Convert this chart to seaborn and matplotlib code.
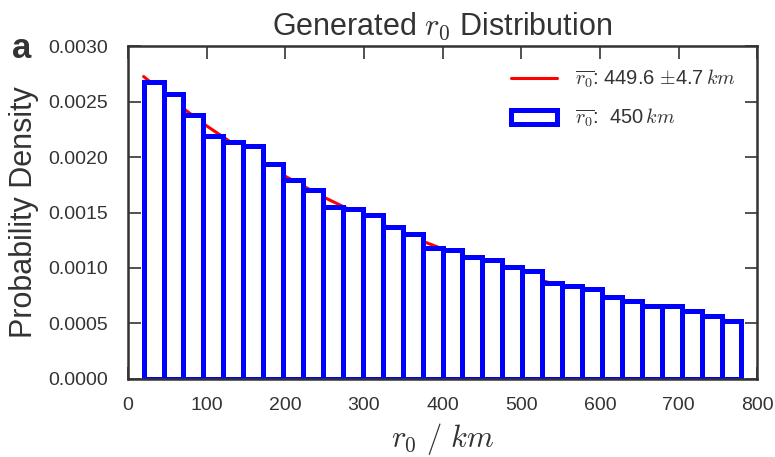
import numpy as np
import pandas as pd
import matplotlib
matplotlib.use("Agg")
import matplotlib.pyplot as plt
import seaborn as sns

# ---- data ----
bin_edges = [20.0, 45.33, 70.67, 96.0, 121.33, 146.67, 172.0, 197.33, 222.67, 248.0,
             273.33, 298.67, 324.0, 349.33, 374.67, 400.0, 425.33, 450.67, 476.0, 501.33,
             526.67, 552.0, 577.33, 602.67, 628.0, 653.33, 678.67, 704.0, 729.33, 754.67, 780.0]
density = [0.00268, 0.00257, 0.00238, 0.00219, 0.00214, 0.00210, 0.00194, 0.00179, 0.00170, 0.00155,
           0.00153, 0.00148, 0.00137, 0.00131, 0.00118, 0.00116, 0.00110, 0.00107, 0.00101, 0.00097,
           0.00086, 0.00084, 0.00081, 0.00074, 0.00070, 0.00066, 0.00066, 0.00061, 0.00057, 0.00052]
fit_x = [20, 60, 100, 150, 200, 250, 300, 350, 400, 450, 500, 550, 600, 650, 700, 750, 780]
fit_y = [0.002726, 0.002494, 0.002282, 0.002042, 0.001827, 0.001635, 0.001463, 0.001309,
         0.001172, 0.001048, 0.000938, 0.000840, 0.000751, 0.000672, 0.000602, 0.000538, 0.000504]
xticks = [0, 100, 200, 300, 400, 500, 600, 700, 800]
yticks = [0.0000, 0.0005, 0.0010, 0.0015, 0.0020, 0.0025, 0.0030]

title = r"Generated $r_0$ Distribution"
xlabel = r"$r_0\ /\ km$"
ylabel = "Probability Density"
fit_label = r"$\overline{r_0}$: 449.6 $\pm$4.7$\,km$"
hist_label = r"$\overline{r_0}$:  450$\,km$"

sns.set_theme(style="ticks")
plt.rcParams["font.family"] = ["Liberation Sans", "DejaVu Sans"]
plt.rcParams["mathtext.fontset"] = "cm"
text_col = "#333333"

fig = plt.figure(figsize=(7.75, 4.57), dpi=100)
ax = fig.add_axes([0.165, 0.171, 0.812, 0.728])

sns.lineplot(x=fit_x, y=fit_y, ax=ax, color="red", lw=2.2, label=fit_label, zorder=1)

centers = [(bin_edges[i] + bin_edges[i + 1]) / 2 for i in range(len(density))]
hdf = pd.DataFrame({"r0": centers, "w": density})
sns.histplot(data=hdf, x="r0", weights="w", bins=bin_edges, stat="count",
             element="bars", fill=True, facecolor="white", edgecolor="blue",
             linewidth=3.6, alpha=1, ax=ax, label=hist_label, zorder=2)

ax.set_xlim(0, 800)
ax.set_ylim(0, 0.0030)
ax.set_xticks(xticks)
ax.set_yticks(yticks)
ax.set_yticklabels([f"{v:.4f}" for v in yticks])
ax.tick_params(direction="in", length=9, width=1.2, top=True, right=True,
               labelsize=14, colors=text_col)
ax.tick_params(axis="y", pad=14)
ax.tick_params(axis="x", pad=13)
for s in ax.spines.values():
    s.set_color("#333333")
    s.set_linewidth(1.8)

ax.set_title(title, fontsize=22, color=text_col, pad=8)
ax.set_xlabel(xlabel, fontsize=22, color=text_col, labelpad=5)
ax.set_ylabel(ylabel, fontsize=22, color=text_col, labelpad=7)

fig.text(0.015, 0.873, "a", fontsize=25, fontweight="bold", color=text_col, va="baseline")

leg = ax.legend(loc="upper right", frameon=False, fontsize=14.5, handlelength=2.3,
                handletextpad=0.9, labelspacing=0.8, borderaxespad=0.65)
for t in leg.get_texts():
    t.set_color(text_col)

fig.savefig("out.png", dpi=100)
